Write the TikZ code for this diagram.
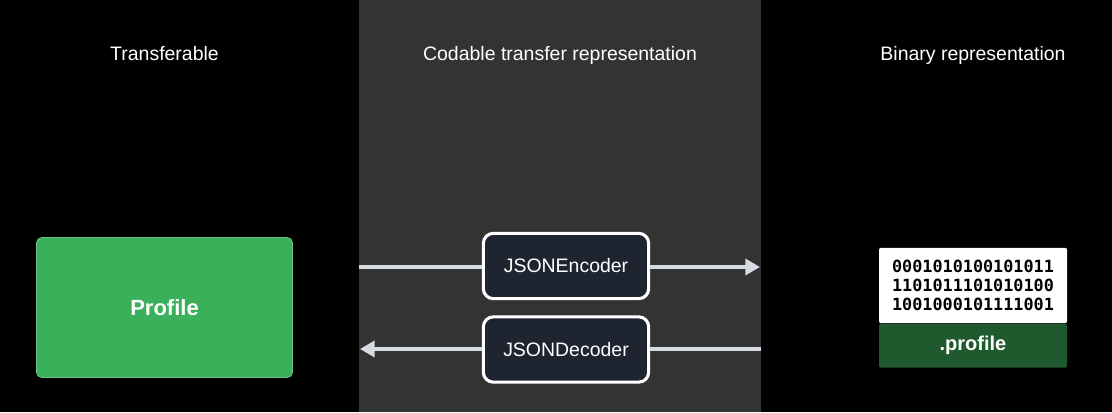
\documentclass[tikz,border=0pt]{standalone}
\usepackage{fontspec}
\setmainfont{Liberation Sans}
\setmonofont{DejaVu Sans Mono}
\usetikzlibrary{positioning,arrows.meta}

\definecolor{panelgray}{HTML}{333333}
\definecolor{profilegreen}{HTML}{3AB05A}
\definecolor{profileedge}{HTML}{6CC584}
\definecolor{coderfill}{HTML}{1E2530}
\definecolor{flowgray}{HTML}{D5DBE3}
\definecolor{filegreen}{HTML}{1F5A2F}

\begin{document}
\begin{tikzpicture}[
    x=0.75pt, y=-0.75pt,
    font=\fontsize{14.6}{17}\selectfont,
    title/.style={text=white, inner sep=0pt, anchor=base},
    coder/.style={rectangle, rounded corners=7.5pt, fill=coderfill, draw=white,
                  line width=2.3pt, minimum width=124pt, minimum height=49pt,
                  text=white, inner sep=0pt},
    flow/.style={flowgray, line width=3pt},
    bits/.style={rectangle, fill=white, rounded corners=1.5pt, minimum width=141pt,
                 minimum height=56.5pt, inner sep=0pt, align=center,
                 font=\fontsize{12.6}{14.3}\selectfont\ttfamily\bfseries},
    ext/.style={rectangle, fill=filegreen, rounded corners=1.5pt, minimum width=141pt,
                minimum height=33pt, inner sep=0pt, text=white,
                font=\fontsize{15}{18}\selectfont\bfseries},
  ]
  % background and middle panel
  \fill[black] (0,0) rectangle (1112,412);
  \useasboundingbox (0,0) rectangle (1112,412);
  \fill[panelgray] (359,0) rectangle (761,412);

  % column titles
  \node[title] (t1) at (164.5,60.5) {Transferable};
  \node[title] (t2) at (560,60.5) {Codable transfer representation};
  \node[title] (t3) at (973,60.5) {Binary representation};

  % transferable type
  \node[rectangle, rounded corners=4pt, fill=profilegreen, draw=profileedge,
        line width=0.6pt, minimum width=192pt, minimum height=105pt,
        text=white, font=\fontsize{16.5}{19}\selectfont\bfseries]
    (profile) at (164.5,307.5) {Profile};

  % encoder / decoder
  \node[coder] (enc) at (566,266) {JSONEncoder};
  \node[coder] (dec) at (566,349.5) {JSONDecoder};

  % panel edges for the flow lines
  \coordinate (encin) at (359,267);
  \coordinate (encout) at (760,267);
  \coordinate (decin) at (761,349);
  \coordinate (decout) at (360,349);

  \draw[flow] (encin) -- (enc.west |- encin);
  \draw[flow, -{Triangle[length=11pt, width=12pt]}] (enc.east |- encout) -- (encout);
  \draw[flow] (decin) -- (dec.east |- decin);
  \draw[flow, -{Triangle[length=11pt, width=12pt]}] (dec.west |- decout) -- (decout);

  % binary file
  \node[bits] (data) at (973,285.5)
    {0001010100101011\\1101011101010100\\1001000101111001};
  \node[ext, below=0pt of data] (file) {.profile};
\end{tikzpicture}
\end{document}
